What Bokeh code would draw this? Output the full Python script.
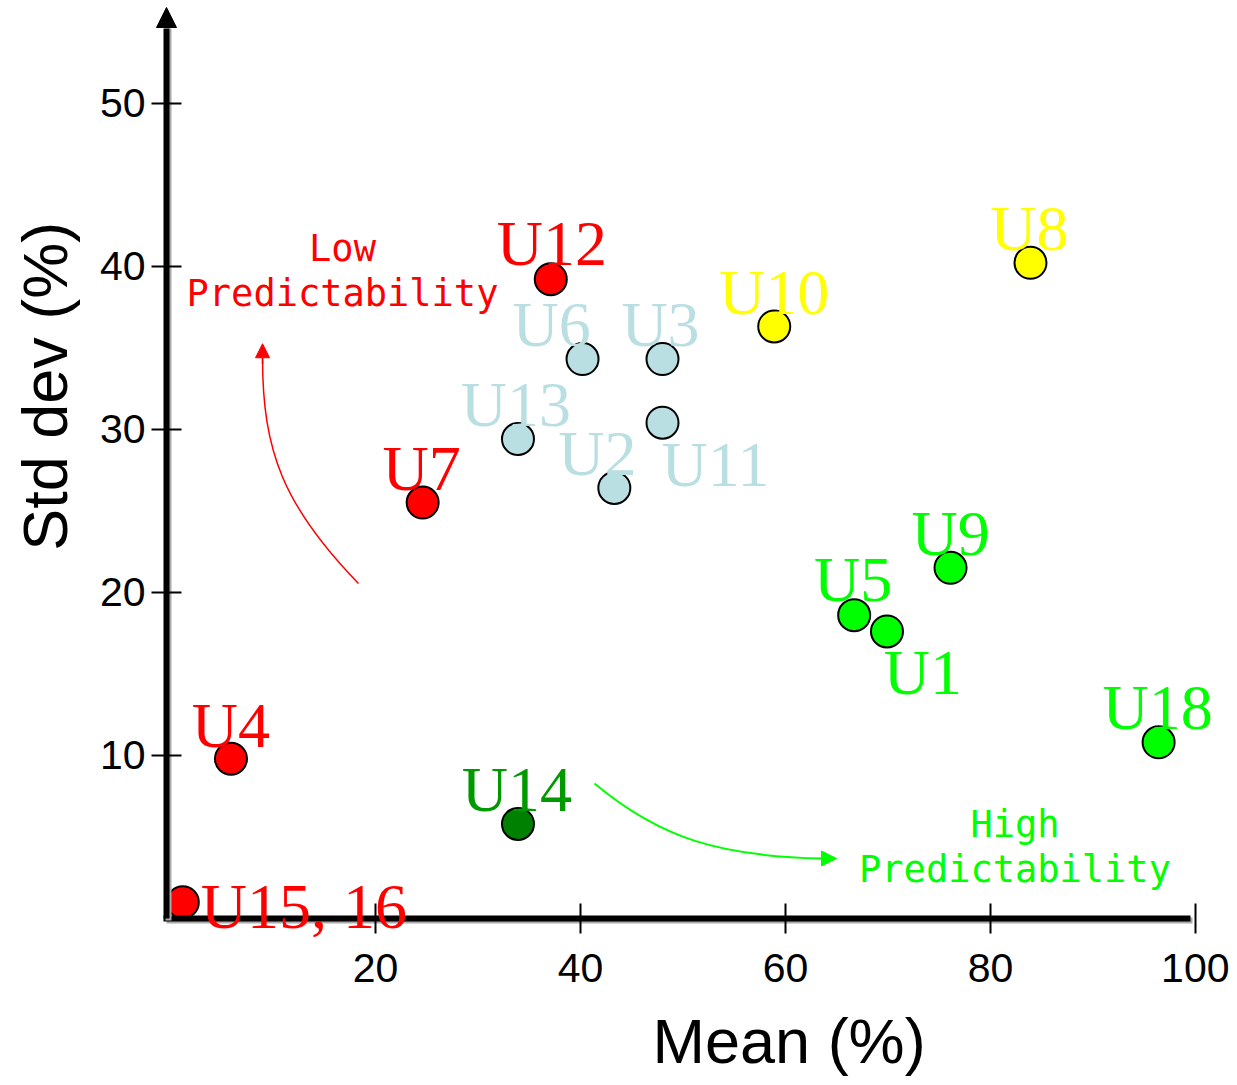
import math
from bokeh.plotting import figure
from bokeh.models import (ColumnDataSource, Range1d, FixedTicker, LabelSet,
                          Arrow, NormalHead, LinearAxis)
from bokeh.core.properties import value
from bokeh.embed import file_html
from bokeh.resources import INLINE

# ---------------- data ----------------
users = ["U1", "U2", "U3", "U4", "U5", "U6", "U7", "U8", "U9", "U10",
         "U11", "U12", "U13", "U14", "U15, 16", "U18"]
mean_pct = [69.9, 43.3, 48.0, 5.9, 66.7, 40.2, 24.6, 83.9, 76.1, 58.9,
            48.0, 37.1, 33.9, 33.9, 1.2, 96.4]
std_pct = [17.6, 26.4, 34.3, 9.8, 18.6, 34.3, 25.5, 40.2, 21.5, 36.3,
           30.4, 39.2, 29.4, 5.8, 1.0, 10.8]
groups = ["high", "mid", "mid", "low", "high", "mid", "low", "upper", "high", "upper",
          "mid", "low", "mid", "steady", "low", "high"]

x_ticks = [20, 40, 60, 80, 100]
y_ticks = [10, 20, 30, 40, 50]

# ---------------- styles ----------------
fill_of = {"low": "#FF0000", "mid": "#B9DFE3", "upper": "#FFFF00",
           "high": "#00FF00", "steady": "#008000"}
text_of = {"low": "#FF0000", "mid": "#B9DFE3", "upper": "#FFFF00",
           "high": "#00FF00", "steady": "#009900"}
# label offsets in screen pixels (dx right, dy up) relative to the marker
label_dx = [36, -17, -2, 0, -1, -31, -1, -1, 0, 0, 53, 1, -2, -1, 121, -1]
label_dy = [-63, 13, 13, 12, 14, 13, 13, 13, 13, 12, -63, 14, 13, 13, -26, 13]

src = ColumnDataSource(dict(
    x=mean_pct, y=std_pct, name=users,
    fill=[fill_of[g] for g in groups],
    tcol=[text_of[g] for g in groups],
    dx=label_dx, dy=label_dy,
))

W, H = 1229, 1077
PX0, KX = 170.0, 10.25      # pixel of x=0, pixels per unit
PY0, KY = 918.0, 16.31      # pixel of y=0, pixels per unit
X0, X1 = (0 - PX0) / KX, (W - PX0) / KX
Y0, Y1 = (PY0 - H) / KY, PY0 / KY

AXIS_X = (166 - PX0) / KX   # where the vertical axis sits
AXIS_Y = 0.0
Y_TOP = (PY0 - 7) / KY      # arrow tip

p = figure(width=W, height=H, x_range=Range1d(X0, X1), y_range=Range1d(Y0, Y1),
           output_backend="svg", toolbar_location=None,
           x_axis_location=None, y_axis_location=None,
           min_border_left=0, min_border_right=0, min_border_top=0, min_border_bottom=0)
p.grid.visible = False
p.outline_line_color = None
p.background_fill_color = "white"
p.border_fill_color = "white"

# gray shadows of the axes
sh_y = LinearAxis(fixed_location=AXIS_X + 2.2 / KX, ticker=FixedTicker(ticks=[]),
                  axis_line_width=6, axis_line_color="#AAAAAA",
                  major_tick_line_color=None, minor_tick_line_color=None,
                  bounds=(AXIS_Y - 2.2 / KY, (PY0 - 28) / KY))
sh_x = LinearAxis(fixed_location=AXIS_Y - 2.2 / KY, ticker=FixedTicker(ticks=[]),
                  axis_line_width=6, axis_line_color="#AAAAAA",
                  major_tick_line_color=None, minor_tick_line_color=None,
                  bounds=(AXIS_X, (1190 - PX0) / KX + 0.2))
p.add_layout(sh_y, "left")
p.add_layout(sh_x, "below")

yax = LinearAxis(fixed_location=AXIS_X, ticker=FixedTicker(ticks=y_ticks),
                 bounds=(AXIS_Y, (PY0 - 28) / KY))
xax = LinearAxis(fixed_location=AXIS_Y, ticker=FixedTicker(ticks=x_ticks),
                 bounds=(AXIS_X - 3 / KX, (1190 - PX0) / KX))
for ax in (yax, xax):
    ax.axis_line_width = 6
    ax.axis_line_color = "black"
    ax.major_tick_in = 15
    ax.major_tick_out = 15
    ax.major_tick_line_width = 2
    ax.major_tick_line_color = "black"
    ax.minor_tick_line_color = None
    ax.major_label_text_font = "Liberation Sans"
    ax.major_label_text_font_size = "41px"
    ax.major_label_text_color = "black"
yax.major_label_standoff = 6
xax.major_label_standoff = 20
p.add_layout(yax, "left")
p.add_layout(xax, "below")

# y axis arrow head
p.add_layout(Arrow(end=NormalHead(size=20, fill_color="black", line_color="black", line_width=1),
                   x_start=AXIS_X, y_start=Y_TOP - 2.0, x_end=AXIS_X, y_end=Y_TOP,
                   line_color=None))

# decorative curved arrows
p.bezier(x0=[18.34], y0=[20.54], cx0=[11.0], cy0=[25.3], cx1=[8.98], cy1=[28.69],
         x1=[8.98], y1=[34.33], line_color="#FF0000", line_width=1.5)
p.add_layout(Arrow(end=NormalHead(size=14, fill_color="#FF0000", line_color="#FF0000", line_width=1),
                   x_start=8.98, y_start=34.0, x_end=8.98, y_end=35.24,
                   line_color="#FF0000", line_width=1.5))
p.bezier(x0=[41.37], y0=[8.28], cx0=[47.8], cy0=[4.9], cx1=[53.66], cy1=[3.8],
         x1=[63.61], y1=[3.68], line_color="#00FF00", line_width=2)
p.add_layout(Arrow(end=NormalHead(size=15, fill_color="#00FF00", line_color="#00FF00", line_width=1),
                   x_start=63.4, y_start=3.68, x_end=64.98, y_end=3.68,
                   line_color="#00FF00", line_width=2))

# points
p.scatter(x="x", y="y", source=src, marker="circle", size=32,
          fill_color="fill", line_color="black", line_width=2)

p.add_layout(LabelSet(x="x", y="y", text="name", source=src,
                      x_offset="dx", y_offset="dy",
                      text_align="center", text_baseline="alphabetic",
                      text_font=value("Liberation Serif"), text_font_size=value("64px"),
                      text_color="tcol"))

# region annotations
region_src = ColumnDataSource(dict(
    x=[16.78, 16.78, 82.39, 82.39], y=[40.30, 37.58, 4.97, 2.23],
    text=["Low", "Predictability", "High", "Predictability"],
    color=["#FF0000", "#FF0000", "#00FF00", "#00FF00"]))
p.add_layout(LabelSet(x="x", y="y", text="text", source=region_src,
                      text_align="center", text_baseline="alphabetic",
                      text_font=value("DejaVu Sans Mono"), text_font_size=value("37px"),
                      text_color="color"))

# axis titles
title_src = ColumnDataSource(dict(
    x=[60.35, -10.05], y=[-8.89, 32.63], text=["Mean (%)", "Std dev (%)"],
    angle=[0.0, math.pi / 2]))
p.add_layout(LabelSet(x="x", y="y", text="text", angle="angle", source=title_src,
                      text_align="center", text_baseline="alphabetic",
                      text_font=value("Liberation Sans"), text_font_size=value("63px"),
                      text_color="black"))

open("out.html", "w").write(file_html(p, INLINE))
